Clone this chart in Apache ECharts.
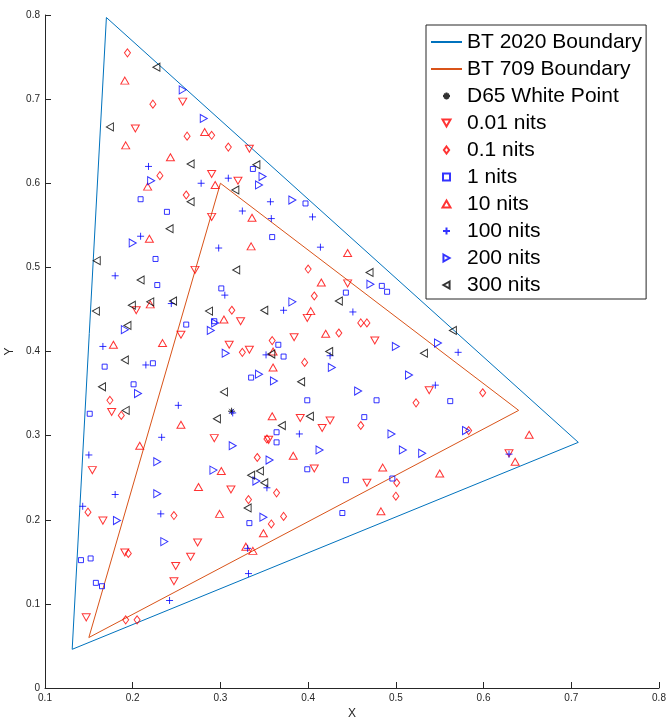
<!DOCTYPE html>
<html>
<head>
<meta charset="utf-8">
<script src="https://cdn.jsdelivr.net/npm/echarts@6/dist/echarts.min.js"></script>
<style>
  html, body { margin: 0; padding: 0; background: #fff; }
  #chart { width: 667px; height: 723px; }
</style>
</head>
<body>
<div id="chart"></div>
<script>
// Gamut boundaries (CIE 1931 xy primaries, closed loop R-G-B-R)
const bt2020 = [[0.708, 0.292], [0.170, 0.797], [0.131, 0.046], [0.708, 0.292]];
const bt709 = [[0.640, 0.330], [0.300, 0.600], [0.150, 0.060], [0.640, 0.330]];
const d65 = [[0.3127, 0.3290]];

// Measured chromaticities per luminance level
const nits0_01 = [
  [0.257, 0.697], [0.203, 0.665], [0.290, 0.611], [0.320, 0.603], [0.290, 0.560],
  [0.333, 0.641], [0.271, 0.497], [0.204, 0.449], [0.323, 0.436], [0.255, 0.420],
  [0.310, 0.408], [0.176, 0.328], [0.293, 0.297], [0.445, 0.481], [0.399, 0.440],
  [0.384, 0.417], [0.476, 0.413], [0.333, 0.402], [0.538, 0.354], [0.391, 0.321],
  [0.425, 0.318], [0.416, 0.309], [0.355, 0.295], [0.629, 0.279], [0.407, 0.261],
  [0.467, 0.244], [0.154, 0.259], [0.312, 0.236], [0.166, 0.199], [0.274, 0.173],
  [0.191, 0.161], [0.266, 0.156], [0.249, 0.145], [0.247, 0.127], [0.147, 0.084]
];
const nits0_1 = [
  [0.194, 0.755], [0.223, 0.694], [0.290, 0.657], [0.262, 0.656], [0.309, 0.643],
  [0.231, 0.609], [0.261, 0.586], [0.313, 0.449], [0.325, 0.399], [0.174, 0.342],
  [0.187, 0.324], [0.400, 0.498], [0.407, 0.466], [0.460, 0.434], [0.467, 0.434],
  [0.435, 0.422], [0.359, 0.413], [0.396, 0.387], [0.523, 0.339], [0.460, 0.312],
  [0.353, 0.296], [0.342, 0.274], [0.599, 0.351], [0.583, 0.306], [0.501, 0.244],
  [0.364, 0.232], [0.332, 0.224], [0.500, 0.228], [0.372, 0.204], [0.358, 0.195],
  [0.149, 0.209], [0.247, 0.205], [0.195, 0.160], [0.192, 0.081], [0.205, 0.081]
];
const nits1 = [
  [0.209, 0.581], [0.239, 0.566], [0.337, 0.617], [0.397, 0.576], [0.359, 0.536],
  [0.226, 0.510], [0.228, 0.479], [0.301, 0.475], [0.293, 0.436], [0.261, 0.432],
  [0.168, 0.382], [0.223, 0.386], [0.201, 0.361], [0.151, 0.326], [0.484, 0.478],
  [0.490, 0.471], [0.443, 0.470], [0.366, 0.408], [0.372, 0.394], [0.335, 0.369],
  [0.399, 0.342], [0.478, 0.342], [0.464, 0.322], [0.364, 0.304], [0.364, 0.292],
  [0.562, 0.341], [0.399, 0.260], [0.443, 0.247], [0.496, 0.249], [0.439, 0.208],
  [0.333, 0.196], [0.141, 0.152], [0.152, 0.154], [0.158, 0.125], [0.165, 0.121]
];
const nits10 = [
  [0.191, 0.722], [0.282, 0.661], [0.192, 0.645], [0.243, 0.631], [0.294, 0.598],
  [0.217, 0.596], [0.219, 0.534], [0.336, 0.559], [0.220, 0.456], [0.304, 0.438],
  [0.234, 0.410], [0.178, 0.408], [0.255, 0.313], [0.208, 0.288], [0.335, 0.525],
  [0.445, 0.517], [0.415, 0.482], [0.403, 0.448], [0.420, 0.421], [0.360, 0.400],
  [0.360, 0.381], [0.359, 0.323], [0.383, 0.276], [0.485, 0.262], [0.652, 0.301],
  [0.636, 0.269], [0.550, 0.255], [0.483, 0.210], [0.349, 0.184], [0.329, 0.168],
  [0.337, 0.163], [0.301, 0.258], [0.275, 0.239], [0.299, 0.207]
];
const nits100 = [
  [0.218, 0.620], [0.309, 0.606], [0.278, 0.600], [0.325, 0.567], [0.209, 0.537],
  [0.357, 0.578], [0.358, 0.558], [0.405, 0.560], [0.298, 0.523], [0.180, 0.490],
  [0.305, 0.467], [0.244, 0.457], [0.166, 0.406], [0.215, 0.384], [0.252, 0.336],
  [0.314, 0.327], [0.233, 0.298], [0.150, 0.277], [0.414, 0.524], [0.372, 0.449],
  [0.451, 0.447], [0.352, 0.396], [0.425, 0.395], [0.545, 0.360], [0.390, 0.302],
  [0.571, 0.399], [0.629, 0.278], [0.353, 0.238], [0.331, 0.166], [0.332, 0.136],
  [0.180, 0.230], [0.143, 0.216], [0.232, 0.207], [0.242, 0.104]
];
const nits200 = [
  [0.257, 0.711], [0.281, 0.677], [0.221, 0.603], [0.348, 0.608], [0.344, 0.598],
  [0.382, 0.580], [0.200, 0.529], [0.294, 0.434], [0.191, 0.426], [0.289, 0.425],
  [0.306, 0.398], [0.206, 0.350], [0.314, 0.288], [0.228, 0.269], [0.471, 0.480],
  [0.382, 0.459], [0.500, 0.406], [0.548, 0.410], [0.427, 0.381], [0.344, 0.373],
  [0.361, 0.365], [0.515, 0.372], [0.457, 0.353], [0.495, 0.302], [0.413, 0.283],
  [0.508, 0.283], [0.530, 0.279], [0.356, 0.271], [0.580, 0.306], [0.341, 0.246],
  [0.349, 0.203], [0.292, 0.259], [0.228, 0.231], [0.182, 0.199], [0.236, 0.174]
];
const nits300 = [
  [0.227, 0.738], [0.174, 0.667], [0.266, 0.623], [0.317, 0.592], [0.266, 0.578],
  [0.242, 0.546], [0.341, 0.622], [0.159, 0.508], [0.318, 0.497], [0.209, 0.485],
  [0.199, 0.455], [0.220, 0.459], [0.246, 0.460], [0.158, 0.448], [0.287, 0.448],
  [0.194, 0.431], [0.191, 0.390], [0.165, 0.358], [0.304, 0.352], [0.192, 0.330],
  [0.296, 0.320], [0.470, 0.494], [0.435, 0.460], [0.350, 0.449], [0.532, 0.398],
  [0.358, 0.397], [0.424, 0.400], [0.392, 0.364], [0.402, 0.323], [0.370, 0.312],
  [0.565, 0.425], [0.345, 0.258], [0.335, 0.253], [0.350, 0.244], [0.331, 0.214]
];

const xTicks = { min: 0.1, max: 0.8, step: 0.1 };
const yTicks = { min: 0, max: 0.8, step: 0.1 };

const FONT = 'Liberation Sans, Arial, sans-serif';
const AXIS_GRAY = '#262626';

// Outline marker shapes (path symbols keep their aspect inside the legend box)
const SYM = {
  star: 'path://M5,0L5,10M0,5L10,5M1.6,1.6L8.4,8.4M8.4,1.6L1.6,8.4',
  plus: 'path://M5,0L5,10M0,5L10,5',
  up: 'path://M4,0L8,7L0,7Z',
  down: 'path://M0,0L8,0L4,7Z',
  right: 'path://M0,0L7,4L0,8Z',
  left: 'path://M7,0L0,4L7,8Z',
  diamond: 'path://M3,0L6,4L3,8L0,4Z',
  square: 'path://M0,0L5,0L5,5L0,5Z'
};

function markerSeries(name, data, symbol, size, color) {
  return {
    name: name,
    type: 'scatter',
    data: data,
    symbol: symbol,
    symbolSize: size,
    itemStyle: { color: 'rgba(0,0,0,0)', borderColor: color, borderWidth: 1 },
    emphasis: { disabled: true },
    z: 3
  };
}

function boundary(name, data, color) {
  return {
    name: name,
    type: 'line',
    data: data,
    symbol: 'none',
    lineStyle: { color: color, width: 1 },
    itemStyle: { color: color },
    emphasis: { disabled: true },
    z: 2
  };
}

const chart = echarts.init(document.getElementById('chart'), null, { renderer: 'canvas' });
chart.setOption({
  animation: false,
  backgroundColor: '#ffffff',
  grid: { left: 45, right: 8, top: 15, bottom: 35, containLabel: false, outerBoundsMode: 'none' },
  xAxis: {
    type: 'value', min: xTicks.min, max: xTicks.max, interval: xTicks.step,
    name: 'X', nameLocation: 'middle', nameGap: 19,
    nameTextStyle: { fontFamily: FONT, fontSize: 12, color: AXIS_GRAY },
    axisLine: { onZero: false, lineStyle: { color: AXIS_GRAY, width: 1 } },
    axisTick: { inside: true, length: 6, lineStyle: { color: AXIS_GRAY } },
    axisLabel: { fontFamily: FONT, fontSize: 10, color: AXIS_GRAY, margin: 5,
                 formatter: v => String(+v.toFixed(1)) },
    splitLine: { show: false }
  },
  yAxis: {
    type: 'value', min: yTicks.min, max: yTicks.max, interval: yTicks.step,
    name: 'Y', nameLocation: 'middle', nameGap: 29, nameRotate: 90,
    nameTextStyle: { fontFamily: FONT, fontSize: 12, color: AXIS_GRAY },
    axisLine: { show: true, onZero: false, lineStyle: { color: AXIS_GRAY, width: 1 } },
    axisTick: { show: true, inside: true, length: 6, lineStyle: { color: AXIS_GRAY } },
    axisLabel: { fontFamily: FONT, fontSize: 10, color: AXIS_GRAY, margin: 5,
                 formatter: v => String(+v.toFixed(1)) },
    splitLine: { show: false }
  },
  legend: {
    orient: 'vertical',
    left: 426, top: 25,
    padding: [6, 4, 3, 4],
    itemWidth: 31, itemHeight: 7, itemGap: 5,
    symbolKeepAspect: true,
    backgroundColor: '#ffffff',
    borderColor: AXIS_GRAY, borderWidth: 1,
    selectedMode: false,
    textStyle: { fontFamily: FONT, fontSize: 21, lineHeight: 22, color: '#000' },
    data: [
      { name: 'BT 2020 Boundary', itemStyle: { opacity: 0 } },
      { name: 'BT 709 Boundary', itemStyle: { opacity: 0 } },
      'D65 White Point', '0.01 nits', '0.1 nits', '1 nits',
      '10 nits', '100 nits', '200 nits', '300 nits'
    ]
  },
  series: [
    boundary('BT 2020 Boundary', bt2020, '#0072BD'),
    boundary('BT 709 Boundary', bt709, '#D95319'),
    markerSeries('D65 White Point', d65, SYM.star, 7, '#000000'),
    markerSeries('0.01 nits', nits0_01, SYM.down, [8, 7], '#ff0000'),
    markerSeries('0.1 nits', nits0_1, SYM.diamond, [6, 8], '#ff0000'),
    markerSeries('1 nits', nits1, SYM.square, 5, '#0000ff'),
    markerSeries('10 nits', nits10, SYM.up, [8, 7], '#ff0000'),
    markerSeries('100 nits', nits100, SYM.plus, 7, '#0000ff'),
    markerSeries('200 nits', nits200, SYM.right, [7, 8], '#0000ff'),
    markerSeries('300 nits', nits300, SYM.left, [7, 8], '#000000')
  ]
});
</script>
</body>
</html>
